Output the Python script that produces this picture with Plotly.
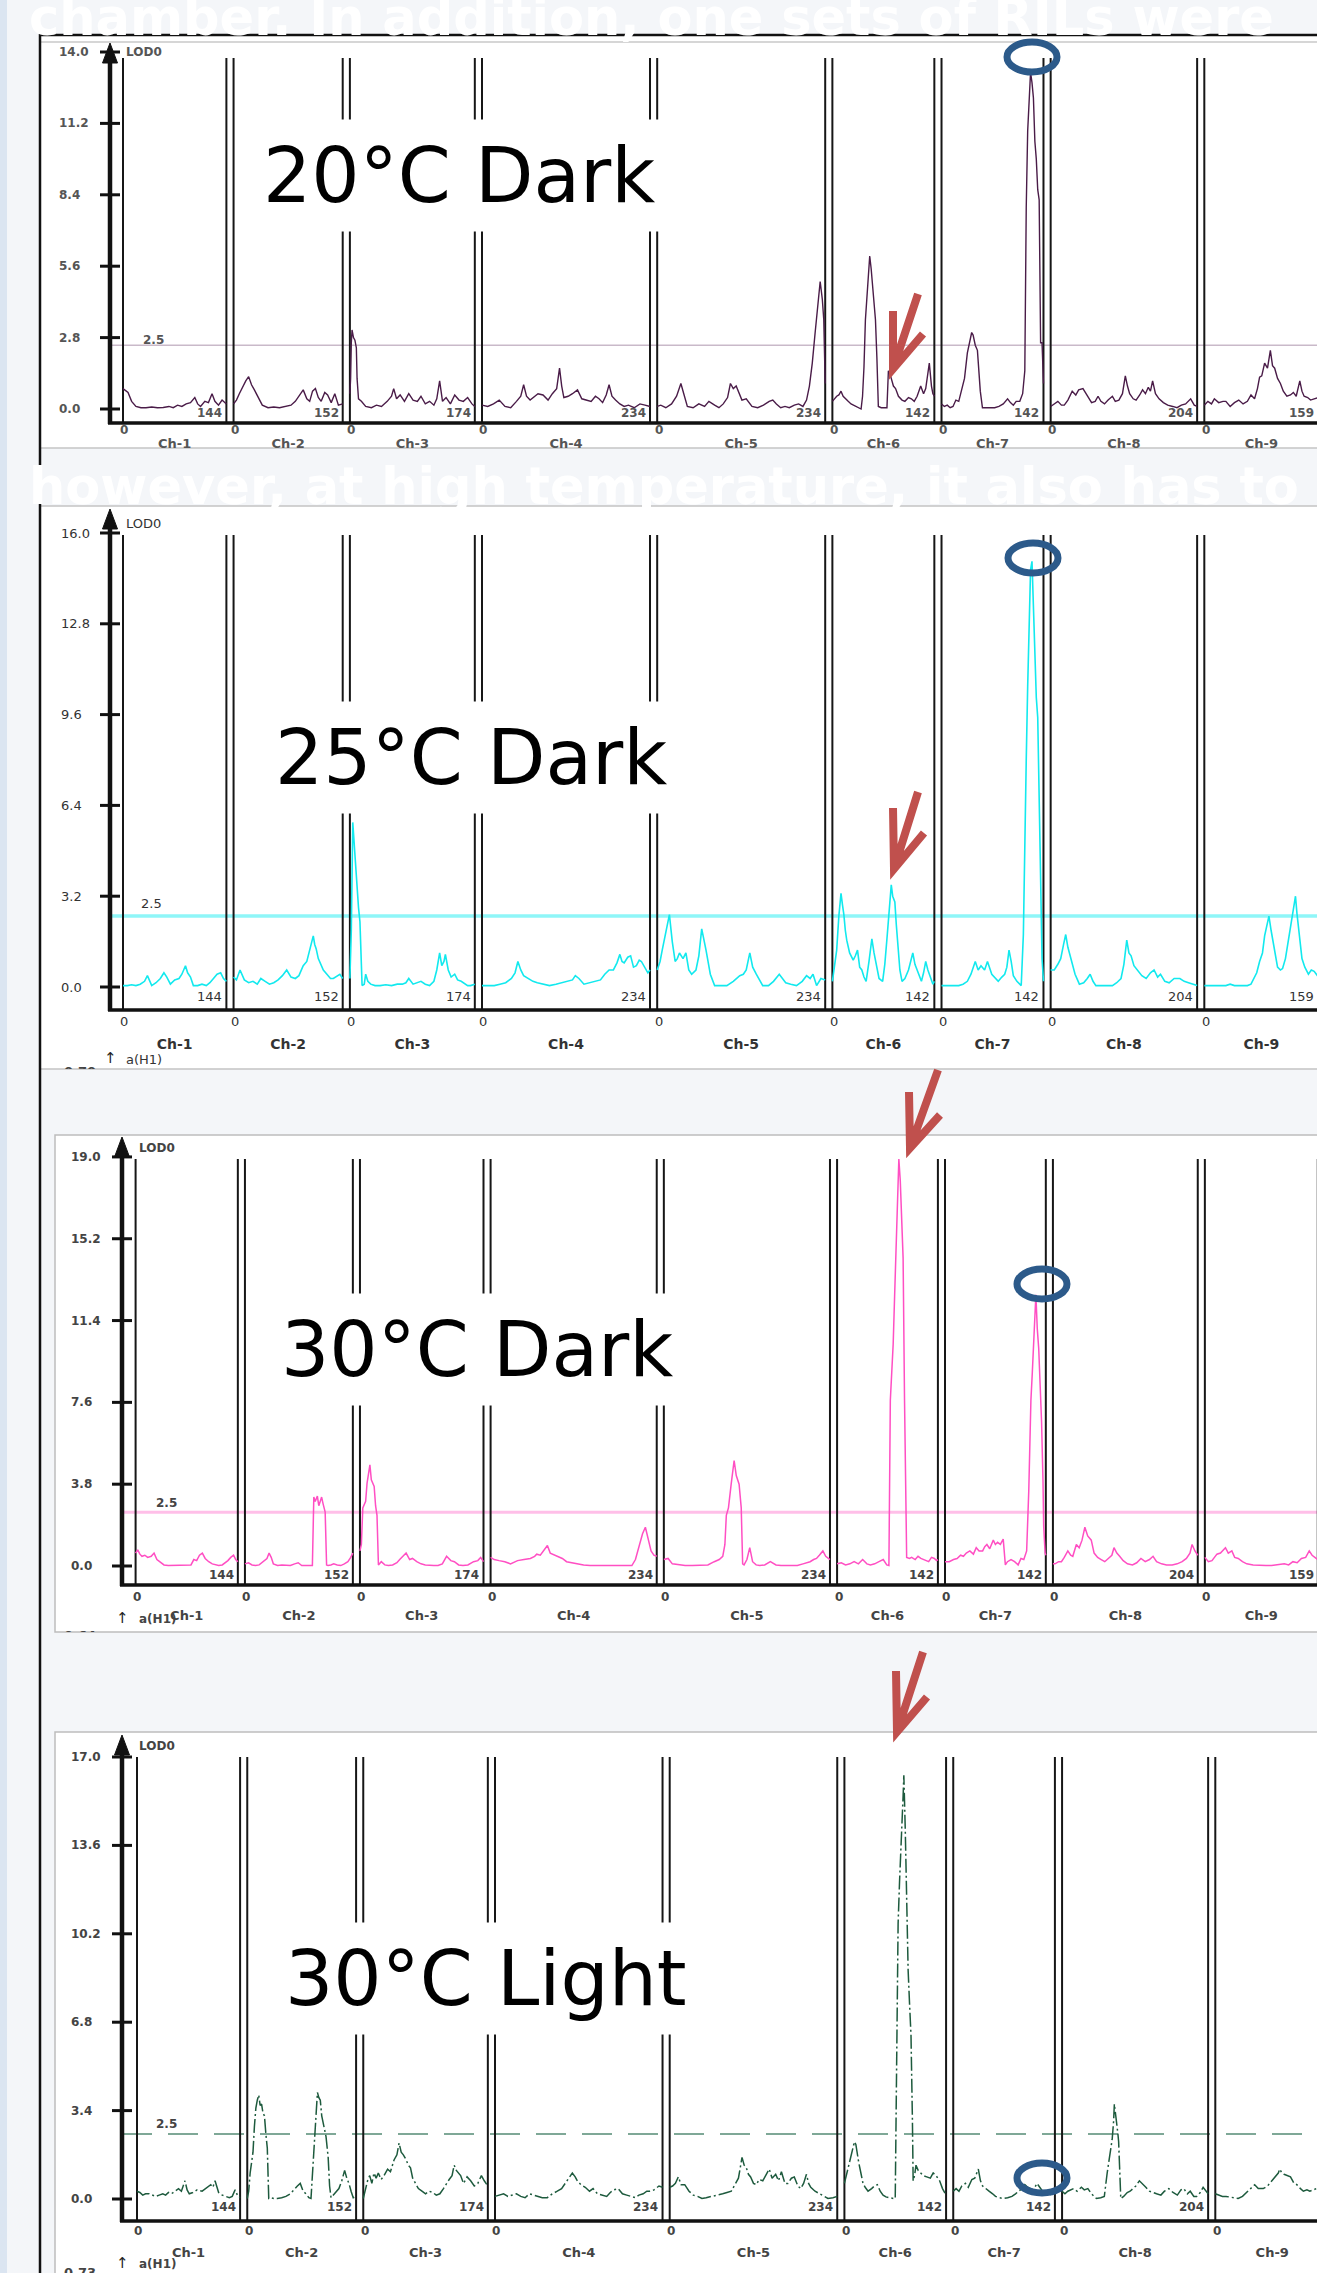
import plotly.graph_objects as go

W, H = 1317, 2273

# ---------------- data ----------------
CHROMS = ["Ch-1", "Ch-2", "Ch-3", "Ch-4", "Ch-5", "Ch-6", "Ch-7", "Ch-8", "Ch-9"]
CHROM_LEN = [144, 152, 174, 234, 234, 142, 142, 204, 159]
GAP_CM = 10
THRESHOLD = 2.5
TITLES = ["20°C Dark", "25°C Dark", "30°C Dark", "30°C Light"]
Y_TICKS = [
    [0.0, 2.8, 5.6, 8.4, 11.2, 14.0],
    [0.0, 3.2, 6.4, 9.6, 12.8, 16.0],
    [0.0, 3.8, 7.6, 11.4, 15.2, 19.0],
    [0.0, 3.4, 6.8, 10.2, 13.6, 17.0],
]
EFFECT_TOP = [None, "0.70", "0.64", "0.73"]
BG_TEXT = ["chamber. In addition, one sets of RILs were",
           "however, at high temperature, it also has to"]

# 20°C Dark : positions (cM within chromosome) and LOD
cm_20 = [
    [0,3,7,12,18,25,32,40,48,56,64,70,76,82,88,94,100,104,108,114,119,124,128,133,138,144],
    [0,4,8,13,17,21,25,29,34,40,48,56,64,72,80,86,91,97,102,106,110,114,118,122,127,131,136,141,146,152],
    [0,1,2,3,5,7,9,10,12,16,22,30,37,44,52,58,61,65,70,76,82,88,94,99,105,111,117,121,125,129,134,140,146,152,158,164,170,174],
    [0,8,16,24,32,40,48,54,58,62,67,72,78,85,92,98,104,108,111,114,120,126,133,139,145,152,158,163,168,173,177,181,186,192,198,204,212,220,227,234],
    [0,5,12,20,27,33,37,42,50,58,66,72,80,86,92,98,102,106,110,114,118,124,132,140,148,156,161,166,172,178,184,191,197,203,208,212,216,220,224,227,230,232,234],
    [0,3,6,9,12,15,18,22,26,30,34,38,40,42,44,46,48,50,52,54,56,58,60,62,64,68,72,76,78,80,82,85,88,92,97,101,106,110,114,118,123,127,130,133,135,138,140,142],
    [0,4,8,12,16,20,24,28,32,36,39,42,44,47,50,52,54,57,62,68,74,80,86,92,96,100,104,109,113,116,118,120,122,124,126,128,130,132,134,136,138,140,142],
    [0,5,10,15,19,24,30,35,39,45,51,57,62,66,70,75,80,86,90,95,100,104,107,110,115,119,124,128,132,136,139,142,146,151,157,163,170,176,182,188,195,200,204],
    [0,5,10,14,20,26,30,36,42,48,54,60,65,70,74,77,80,84,88,92,95,98,102,106,110,115,120,124,128,133,136,139,144,148,153,159],
]
lod_20 = [
    [0.8,0.75,0.65,0.3,0.1,0.05,0.05,0.08,0.05,0.06,0.1,0.05,0.15,0.1,0.2,0.25,0.45,0.2,0.1,0.3,0.25,0.6,0.3,0.15,0.35,0.2],
    [0.2,0.35,0.6,0.9,1.1,1.27,0.95,0.75,0.45,0.15,0.05,0.08,0.05,0.1,0.15,0.3,0.5,0.75,0.4,0.3,0.7,0.8,0.45,0.3,0.65,0.55,0.25,0.6,0.15,0.2],
    [0.6,1.2,2.6,3.1,2.8,2.7,2.4,1.2,0.4,0.3,0.1,0.05,0.15,0.1,0.3,0.5,0.8,0.4,0.55,0.3,0.6,0.35,0.3,0.5,0.2,0.3,0.15,0.4,1.1,0.3,0.45,0.2,0.55,0.35,0.3,0.45,0.2,0.1],
    [0.15,0.1,0.2,0.35,0.1,0.05,0.3,0.5,0.95,0.5,0.35,0.45,0.6,0.55,0.35,0.6,0.8,1.6,0.9,0.45,0.5,0.6,0.75,0.4,0.35,0.3,0.5,0.4,0.25,0.55,0.95,0.5,0.35,0.2,0.1,0.15,0.05,0.2,0.15,0.1],
    [0.1,0.15,0.05,0.2,0.5,1.0,0.6,0.1,0.05,0.2,0.1,0.3,0.15,0.05,0.2,0.45,1.0,0.8,0.9,0.6,0.35,0.4,0.1,0.05,0.15,0.3,0.35,0.2,0.05,0.1,0.05,0.15,0.2,0.1,0.35,0.9,1.8,3.0,4.2,5.0,4.3,3.5,1.0],
    [0.3,0.4,0.5,0.55,0.7,0.5,0.4,0.3,0.2,0.15,0.1,0.05,0.0,0.5,1.65,3.5,4.5,5.3,6.0,5.5,4.9,4.3,3.5,2.0,0.1,0.05,0.05,0.05,1.5,1.4,1.2,0.9,0.8,0.5,0.35,0.3,0.45,0.4,0.3,0.5,0.9,0.6,0.8,1.3,1.8,0.9,0.6,0.5],
    [0.2,0.1,0.15,0.05,0.1,0.35,0.3,0.75,1.2,2.2,2.6,3.0,2.9,2.5,2.3,1.6,0.7,0.05,0.05,0.05,0.05,0.1,0.2,0.4,0.25,0.15,0.3,0.3,0.6,1.5,7.9,10.9,12.4,13.2,12.8,12.2,10.5,9.8,8.6,8.2,2.6,2.6,1.0],
    [0.1,0.2,0.3,0.15,0.15,0.35,0.7,0.55,0.75,0.8,0.55,0.25,0.3,0.5,0.3,0.2,0.35,0.5,0.3,0.35,0.6,1.3,0.9,0.6,0.4,0.35,0.55,0.75,0.6,0.85,0.7,1.1,0.6,0.4,0.25,0.15,0.1,0.05,0.15,0.2,0.4,0.15,0.1],
    [0.15,0.3,0.2,0.4,0.25,0.3,0.3,0.1,0.25,0.35,0.2,0.3,0.55,0.4,0.8,1.25,1.3,1.8,1.6,2.3,1.7,1.6,1.2,1.0,0.7,0.5,0.55,0.65,0.5,1.1,0.7,0.5,0.45,0.35,0.4,0.45],
]

# 25°C Dark
cm_25 = [
    [0,6,12,18,24,30,34,37,40,46,52,57,61,66,72,78,82,87,90,94,98,104,110,116,121,126,131,136,140,144],
    [0,4,9,15,21,27,33,38,44,50,56,62,68,74,80,86,91,97,102,106,109,111,113,115,118,121,125,130,135,139,144,148,152],
    [0,2,4,6,9,12,14,17,20,22,25,29,35,42,50,58,66,73,78,82,88,94,99,105,111,117,121,125,128,131,133,137,141,146,150,155,160,164,168,174],
    [0,8,17,25,33,41,46,50,54,58,65,71,77,85,94,103,112,120,126,130,135,142,150,159,165,171,177,183,188,192,195,198,203,207,211,215,219,222,226,231,234],
    [0,4,7,10,13,17,21,25,28,31,36,40,44,48,54,58,62,65,68,74,80,88,97,106,115,120,124,129,133,138,147,155,162,170,179,186,194,202,208,213,217,222,228,234],
    [0,3,6,9,12,14,16,18,20,24,29,32,35,38,41,44,47,51,55,58,61,65,70,73,76,79,82,84,87,89,91,94,97,101,106,109,112,115,118,121,124,127,130,133,136,140,142],
    [0,6,12,18,24,30,36,41,44,47,51,55,60,64,70,75,79,84,88,91,94,97,100,105,111,114,116,118,120,122,124,126,128,130,132,134,136,138,140,142],
    [0,5,10,14,18,21,24,28,34,40,46,51,55,59,63,70,78,86,92,98,102,106,109,112,116,121,127,133,139,144,149,153,159,165,172,180,186,192,198,204],
    [0,6,12,18,25,30,36,42,48,54,60,65,69,73,77,81,84,87,90,93,96,99,102,106,109,113,118,122,125,127,129,132,136,140,145,149,153,159],
]
lod_25 = [
    [0.05,0.05,0.08,0.05,0.1,0.2,0.4,0.25,0.05,0.15,0.3,0.5,0.35,0.1,0.25,0.3,0.45,0.75,0.5,0.35,0.05,0.05,0.1,0.05,0.15,0.3,0.45,0.5,0.3,0.2],
    [0.35,0.25,0.6,0.25,0.15,0.2,0.1,0.3,0.2,0.1,0.15,0.25,0.4,0.6,0.35,0.3,0.4,0.75,0.9,1.3,1.6,1.8,1.5,1.35,1.0,0.8,0.6,0.45,0.3,0.3,0.4,0.45,0.3],
    [0.3,2.0,5.8,5.0,3.8,2.8,2.3,0.05,0.1,0.45,0.2,0.1,0.05,0.05,0.08,0.05,0.1,0.1,0.15,0.3,0.1,0.15,0.2,0.1,0.05,0.2,0.6,1.2,0.75,0.9,1.15,0.6,0.35,0.45,0.25,0.2,0.1,0.05,0.05,0.1],
    [0.05,0.05,0.05,0.1,0.15,0.3,0.5,0.9,0.6,0.4,0.3,0.2,0.15,0.1,0.05,0.1,0.15,0.2,0.25,0.4,0.3,0.1,0.15,0.2,0.25,0.45,0.6,0.6,0.85,1.15,0.9,0.85,1.05,1.1,0.7,0.75,0.95,0.9,0.7,0.5,0.6],
    [0.6,0.9,1.3,1.7,2.1,2.55,1.6,0.9,1.0,1.2,1.0,1.2,0.6,0.45,0.6,1.1,2.05,1.6,1.3,0.45,0.05,0.05,0.05,0.2,0.4,0.45,0.6,1.2,0.7,0.45,0.05,0.05,0.2,0.45,0.15,0.1,0.05,0.2,0.4,0.3,0.45,0.05,0.3,0.25],
    [0.2,0.7,1.3,2.5,3.3,2.9,2.55,2.0,1.65,1.2,0.95,1.1,1.3,0.7,0.6,0.35,0.2,0.9,1.7,1.2,0.75,0.3,0.2,0.8,1.7,2.6,3.6,3.2,3.0,2.2,1.55,0.6,0.2,0.3,0.6,0.9,1.2,0.8,0.6,0.35,0.2,0.5,0.9,0.6,0.4,0.1,0.2],
    [0.05,0.05,0.05,0.05,0.05,0.1,0.2,0.45,0.7,0.9,0.6,0.75,0.6,0.9,0.45,0.3,0.2,0.35,0.45,0.7,1.3,0.9,0.4,0.2,0.05,1.85,6.0,8.0,10.6,12.5,14.7,15.0,13.5,11.3,10.2,9.5,6.5,3.9,1.0,0.2],
    [0.6,0.6,0.8,1.0,1.5,1.85,1.4,1.0,0.45,0.1,0.15,0.3,0.45,0.2,0.05,0.05,0.05,0.05,0.15,0.3,0.8,1.65,1.2,1.1,0.75,0.6,0.4,0.3,0.5,0.6,0.35,0.45,0.2,0.15,0.3,0.3,0.2,0.15,0.1,0.05],
    [0.05,0.05,0.05,0.05,0.05,0.05,0.1,0.05,0.05,0.05,0.05,0.1,0.3,0.5,0.9,1.2,1.8,2.2,2.5,2.0,1.6,1.2,0.7,0.6,0.65,1.0,1.85,2.5,2.9,3.2,2.6,2.0,1.0,0.7,0.45,0.6,0.55,0.35],
]

# 30°C Dark
cm_30d = [
    [0,3,6,9,13,17,22,26,30,34,40,46,52,60,70,78,82,86,90,94,98,103,108,112,117,122,126,130,134,138,141,144],
    [0,5,10,15,20,26,31,34,37,40,46,52,58,64,70,75,80,85,90,95,97,99,102,104,106,108,110,113,115,117,121,125,130,135,140,145,149,152],
    [0,2,4,6,8,10,12,14,16,18,20,22,24,26,30,35,40,46,52,56,61,65,70,74,80,86,92,98,104,110,116,122,128,133,139,145,152,160,166,170,174],
    [0,5,12,20,28,38,47,56,62,65,70,74,77,80,84,88,95,101,107,114,122,131,140,150,163,172,181,190,199,204,207,211,214,218,222,226,230,234],
    [0,6,12,20,30,40,53,62,71,78,83,86,88,91,95,99,102,106,109,111,113,117,121,125,130,135,142,150,158,165,175,188,196,206,211,215,219,224,228,234],
    [0,6,12,18,24,30,36,42,47,53,59,65,70,73,75,77,79,81,83,85,87,89,91,93,95,97,98,102,105,110,114,118,122,126,129,133,137,140,142],
    [0,6,12,17,22,26,30,35,40,44,48,53,56,59,63,68,71,74,78,82,85,88,93,98,103,107,111,115,118,121,123,125,127,128,130,132,134,136,138,139,141,142],
    [0,3,8,12,16,21,25,28,33,37,41,45,49,54,58,63,68,73,78,83,86,90,94,99,105,112,118,124,130,136,141,146,153,160,168,175,182,188,193,196,200,204],
    [0,5,10,17,22,26,29,33,38,42,47,53,59,68,77,86,94,103,112,118,124,130,136,142,147,151,156,159],
]
lod_30d = [
    [0.6,0.75,0.55,0.45,0.5,0.4,0.45,0.6,0.3,0.2,0.05,0.02,0.02,0.02,0.02,0.05,0.3,0.25,0.5,0.6,0.35,0.2,0.1,0.05,0.02,0.05,0.15,0.25,0.4,0.5,0.3,0.2],
    [0.1,0.15,0.05,0.02,0.05,0.2,0.35,0.6,0.4,0.1,0.02,0.05,0.02,0.02,0.1,0.15,0.02,0.02,0.02,0.02,3.2,3.0,3.25,2.8,3.0,3.2,2.9,2.5,0.05,0.02,0.05,0.1,0.05,0.02,0.1,0.2,0.4,0.6],
    [0.7,1.0,2.7,2.9,3.0,3.85,4.3,4.7,4.0,3.8,3.7,2.8,2.35,0.05,0.2,0.05,0.02,0.05,0.15,0.3,0.45,0.6,0.3,0.35,0.2,0.1,0.05,0.02,0.02,0.02,0.1,0.45,0.25,0.2,0.05,0.02,0.05,0.2,0.25,0.4,0.2],
    [0.4,0.3,0.25,0.2,0.1,0.25,0.3,0.35,0.45,0.55,0.5,0.7,0.8,0.95,0.6,0.55,0.45,0.35,0.2,0.15,0.1,0.05,0.02,0.02,0.02,0.02,0.05,0.02,0.02,0.3,0.7,1.2,1.5,1.8,1.3,0.7,0.5,0.45],
    [0.3,0.35,0.1,0.05,0.02,0.02,0.02,0.05,0.2,0.3,0.45,1.0,2.35,2.7,3.85,4.9,4.2,3.8,2.7,0.1,0.05,0.3,0.85,0.2,0.05,0.02,0.05,0.2,0.05,0.02,0.02,0.02,0.1,0.2,0.3,0.35,0.5,0.7,0.45,0.3],
    [0.1,0.15,0.05,0.1,0.2,0.1,0.3,0.1,0.05,0.1,0.2,0.3,0.05,0.02,7.7,9.0,10.3,12.5,14.6,17.5,18.9,17.9,15.8,14.3,7.7,3.0,0.4,0.35,0.4,0.3,0.45,0.35,0.3,0.25,0.2,0.4,0.35,0.25,0.3],
    [0.2,0.2,0.3,0.35,0.5,0.45,0.6,0.7,0.55,0.85,0.7,0.7,0.9,1.0,0.8,1.2,1.0,1.1,1.0,1.25,0.05,0.2,0.3,0.2,0.05,0.35,0.3,0.7,3.5,7.7,9.0,10.3,11.8,12.6,11.0,10.1,8.4,6.7,4.0,1.85,0.6,0.5],
    [0.1,0.1,0.2,0.2,0.4,0.7,0.5,0.45,1.0,0.85,1.2,1.8,1.4,1.2,0.6,0.4,0.3,0.2,0.35,0.5,0.85,0.6,0.45,0.25,0.1,0.05,0.15,0.35,0.2,0.3,0.45,0.2,0.1,0.05,0.05,0.1,0.2,0.35,0.6,1.0,0.7,0.5],
    [0.4,0.2,0.25,0.55,0.6,0.75,0.85,0.6,0.7,0.4,0.35,0.2,0.1,0.05,0.02,0.02,0.02,0.05,0.1,0.05,0.2,0.15,0.35,0.4,0.7,0.5,0.35,0.3],
]

# 30°C Light
cm_30l = [
    [0,4,8,12,17,22,26,31,36,40,44,48,53,58,62,67,70,73,78,84,91,96,100,103,106,109,114,119,124,129,133,137,141,144],
    [0,2,4,6,8,10,12,14,16,18,20,22,24,26,28,30,33,37,42,48,54,60,66,70,74,78,82,86,89,91,93,96,98,100,102,104,106,108,110,113,115,117,120,124,128,132,136,139,142,145,148,152],
    [0,3,6,9,12,15,18,21,25,29,34,38,43,47,50,53,56,60,63,66,69,73,77,82,87,92,97,102,107,112,116,120,124,127,130,133,136,140,145,150,155,160,165,169,174],
    [0,6,12,18,24,30,36,42,48,54,60,66,73,80,87,93,98,103,108,112,115,120,126,132,137,143,150,156,161,166,172,178,184,190,196,201,207,212,216,222,229,234],
    [0,4,8,12,16,21,27,33,39,45,51,56,62,68,74,80,86,92,96,101,104,107,110,113,117,121,125,130,134,139,143,148,152,156,161,165,170,174,179,183,187,191,194,197,203,209,215,221,228,234],
    [0,3,6,8,11,14,16,18,20,23,26,29,33,38,42,46,50,54,58,62,66,69,71,72,74,75,77,79,80,82,83,85,87,89,91,93,95,96,98,100,103,106,110,115,120,124,128,133,137,142],
    [0,4,8,12,17,21,26,30,35,38,41,45,50,55,59,64,70,76,82,87,91,96,100,104,108,112,117,121,126,130,135,139,142],
    [0,4,8,12,16,21,27,31,36,41,48,54,59,63,66,68,70,72,73,75,76,78,79,82,86,91,95,99,103,108,112,117,122,126,132,138,143,149,155,161,166,170,175,179,184,188,193,197,201,204],
    [0,5,10,15,20,26,32,38,44,50,55,60,67,73,79,84,88,90,93,96,100,105,110,114,119,123,128,132,137,141,146,152,159],
]
lod_30l = [
    [0.3,0.25,0.15,0.2,0.2,0.15,0.1,0.15,0.2,0.15,0.25,0.2,0.3,0.4,0.3,0.7,0.35,0.2,0.25,0.35,0.3,0.4,0.5,0.55,0.45,0.7,0.25,0.15,0.1,0.05,0.1,0.35,0.1,0.05],
    [0.02,0.3,1.0,1.5,1.8,2.8,3.5,3.8,4.0,3.6,3.65,3.3,3.2,2.5,1.95,0.02,0.05,0.02,0.02,0.05,0.1,0.2,0.4,0.5,0.6,0.3,0.2,0.05,0.02,1.0,2.1,3.5,4.1,3.9,3.8,3.2,2.9,2.6,2.4,1.6,0.5,0.05,0.15,0.25,0.4,0.7,1.1,0.8,0.6,0.3,0.05,0.1],
    [0.02,0.4,0.7,0.9,0.6,1.0,0.8,1.0,0.75,0.9,1.15,1.05,1.5,1.7,2.15,1.8,1.7,1.5,1.3,1.2,0.8,0.6,0.4,0.3,0.2,0.3,0.25,0.15,0.2,0.4,0.6,0.75,0.9,1.3,1.1,1.0,0.9,0.6,0.85,0.7,0.5,0.6,0.9,0.7,0.5],
    [0.1,0.15,0.2,0.1,0.15,0.2,0.1,0.05,0.2,0.15,0.1,0.05,0.05,0.2,0.3,0.4,0.6,0.8,1.0,0.85,0.7,0.55,0.45,0.3,0.4,0.2,0.15,0.1,0.25,0.35,0.4,0.2,0.15,0.1,0.05,0.15,0.2,0.3,0.3,0.35,0.5,0.45],
    [0.45,0.5,0.6,0.85,0.55,0.55,0.3,0.15,0.1,0.02,0.05,0.08,0.1,0.15,0.2,0.25,0.3,0.6,0.8,1.6,1.3,1.2,0.95,0.85,0.6,0.55,0.75,0.7,0.9,1.15,0.8,0.95,0.7,1.05,0.6,0.6,0.8,0.85,0.5,0.4,0.6,0.95,0.6,0.45,0.3,0.2,0.1,0.02,0.05,0.1],
    [0.6,0.95,1.3,1.6,1.9,2.2,2.1,1.7,1.4,1.0,0.6,0.45,0.3,0.4,0.5,0.55,0.3,0.15,0.08,0.05,0.02,0.02,0.02,2.55,6.0,10.6,12.2,13.2,14.2,15.5,16.3,14.2,11.4,8.8,7.5,6.3,3.0,0.7,0.9,1.3,1.1,1.0,0.9,0.85,0.8,1.0,0.9,0.7,0.4,0.15],
    [0.3,0.4,0.3,0.5,0.6,0.45,0.75,0.8,1.15,0.7,0.5,0.4,0.3,0.2,0.1,0.05,0.02,0.05,0.1,0.2,0.3,0.4,0.55,0.45,0.4,0.35,0.6,0.45,0.25,0.2,0.15,0.3,0.4],
    [0.3,0.2,0.3,0.35,0.4,0.3,0.45,0.35,0.4,0.2,0.02,0.05,0.1,1.0,1.6,2.0,2.3,3.0,3.65,3.2,2.85,2.5,2.2,0.02,0.1,0.25,0.3,0.4,0.5,0.7,0.6,0.45,0.3,0.25,0.2,0.15,0.3,0.4,0.25,0.15,0.35,0.4,0.2,0.3,0.1,0.1,0.25,0.45,0.3,0.2],
    [0.2,0.15,0.1,0.1,0.08,0.05,0.02,0.1,0.25,0.4,0.55,0.4,0.4,0.5,0.7,0.9,1.0,1.15,1.0,0.95,0.9,0.85,0.6,0.55,0.4,0.3,0.35,0.3,0.35,0.4,0.3,0.25,0.2],
]

CM = [cm_20, cm_25, cm_30d, cm_30l]
LOD = [lod_20, lod_25, lod_30d, lod_30l]

# ---------------- layout constants (pixels) ----------------
PANELS = [
    dict(xa=123, xs=0.718, y0=409, yk=25.5, top=36, bot=448, axx=110, axy=423, tip=43, septop=58,
         tickx=57, thrx=141, thry=340, lodx=124, lody=52, zeroy=430, leny=413, chy=445, ahy=None, cuty=None,
         title=(263, 175), lcolor="#4a1c48", lwidth=1.4, ldash="solid",
         tcolor="#c9b9c9", twidth=1.5, tdash="solid", fsize=12, fbold=True, fcolor="#555555"),
    dict(xa=123, xs=0.718, y0=987, yk=28.375, top=506, bot=1069, axx=110, axy=1010, tip=509, septop=535,
         tickx=59, thrx=139, thry=903, lodx=124, lody=523, zeroy=1021, leny=996, chy=1045, ahy=1059, cuty=1073,
         title=(275, 757), lcolor="#12e9ee", lwidth=1.6, ldash="solid",
         tcolor="#8ff6f8", twidth=3.5, tdash="solid", fsize=13, fbold=False, fcolor="#333333"),
    dict(xa=135.6, xs=0.710, y0=1566, yk=21.53, top=1135, bot=1632, axx=122, axy=1585, tip=1137, septop=1159,
         tickx=69, thrx=154, thry=1503, lodx=137, lody=1148, zeroy=1597, leny=1575, chy=1617, ahy=1619, cuty=1637,
         title=(281, 1349), lcolor="#ff4fc3", lwidth=1.5, ldash="solid",
         tcolor="#ffbfe8", twidth=3.0, tdash="solid", fsize=12, fbold=True, fcolor="#444444"),
    dict(xa=137, xs=0.716, y0=2199, yk=26.0, top=1732, bot=2273, axx=122, axy=2221, tip=1735, septop=1757,
         tickx=69, thrx=154, thry=2124, lodx=137, lody=1746, zeroy=2231, leny=2207, chy=2254, ahy=2264, cuty=2274,
         title=(285, 1978), lcolor="#1d5a3d", lwidth=1.5, ldash="14px,3px,2px,3px",
         tcolor="#7fa897", twidth=2.0, tdash="30px,16px", fsize=12, fbold=True, fcolor="#444444"),
]

RED_ARROWS = [  # tail, tip, left arm end, right arm end
    ((918, 294), (893, 369), (893, 311), (923, 334)),
    ((918, 792), (894, 869), (893, 808), (924, 833)),
    ((938, 1070), (910, 1148), (909, 1092), (940, 1115)),
    ((923, 1652), (897, 1732), (896, 1671), (927, 1697)),
]
BLUE_RINGS = [(1032, 57), (1033, 558), (1042, 1284), (1042, 2178)]


def X(px):
    return px / W


def Y(py):
    return 1 - py / H


offsets = []
acc = 0
for L in CHROM_LEN:
    offsets.append(acc)
    acc += L + GAP_CM

fig = go.Figure()
shapes = []
annotations = []

# ---- page background pieces ----
shapes.append(dict(type="rect", xref="paper", yref="paper", x0=0, x1=X(7), y0=0, y1=1,
                   fillcolor="#dbe5f1", line=dict(width=0), layer="below"))
# panel 1
shapes.append(dict(type="rect", xref="paper", yref="paper", x0=X(40), x1=1, y0=Y(448), y1=Y(36),
                   fillcolor="white", line=dict(width=0), layer="below"))
shapes.append(dict(type="line", xref="paper", yref="paper", x0=X(40), x1=1, y0=Y(42), y1=Y(42),
                   line=dict(color="#c8c8c8", width=1.5), layer="below"))
shapes.append(dict(type="line", xref="paper", yref="paper", x0=X(40), x1=1, y0=Y(448), y1=Y(448),
                   line=dict(color="#c4c4c4", width=1.5), layer="below"))
# panel 2
shapes.append(dict(type="rect", xref="paper", yref="paper", x0=X(40), x1=1.01, y0=Y(1069), y1=Y(506),
                   fillcolor="white", line=dict(color="#c4c4c4", width=1.5), layer="below"))
# panel 3, 4
shapes.append(dict(type="rect", xref="paper", yref="paper", x0=X(55), x1=1.01, y0=Y(1632), y1=Y(1135),
                   fillcolor="white", line=dict(color="#bdbdbd", width=1.5), layer="below"))
shapes.append(dict(type="rect", xref="paper", yref="paper", x0=X(55), x1=1.01, y0=Y(2290), y1=Y(1732),
                   fillcolor="white", line=dict(color="#bdbdbd", width=1.5), layer="below"))
# black frame
shapes.append(dict(type="line", xref="paper", yref="paper", x0=X(40), x1=X(40), y0=0, y1=Y(34),
                   line=dict(color="#111111", width=2.5), layer="below"))
shapes.append(dict(type="line", xref="paper", yref="paper", x0=X(39), x1=1, y0=Y(35), y1=Y(35),
                   line=dict(color="#111111", width=2.5), layer="below"))

# faint background slide text
annotations.append(dict(text=BG_TEXT[0], xref="paper", yref="paper", x=X(27), y=Y(17),
                        xanchor="left", yanchor="middle", showarrow=False,
                        font=dict(family="DejaVu Sans", size=51, color="white", weight="bold")))
annotations.append(dict(text=BG_TEXT[1], xref="paper", yref="paper", x=X(27), y=Y(487),
                        xanchor="left", yanchor="middle", showarrow=False,
                        font=dict(family="DejaVu Sans", size=51, color="white", weight="bold")))

for k, p in enumerate(PANELS):
    sfx = "" if k == 0 else str(k + 1)
    xr, yr = "x" + sfx, "y" + sfx

    def dx(px, p=p):
        return (px - p["xa"]) / p["xs"]

    def dy(py, p=p):
        return (p["y0"] - py) / p["yk"]

    fig.update_layout(**{
        "xaxis" + sfx: dict(domain=[0, 1], range=[dx(0), dx(W)], visible=False, fixedrange=True, anchor=yr),
        "yaxis" + sfx: dict(domain=[Y(p["bot"]), Y(p["top"])], range=[dy(p["bot"]), dy(p["top"])],
                            visible=False, fixedrange=True, anchor=xr),
    })

    # LOD curve
    xs, ys = [], []
    for i in range(len(CHROM_LEN)):
        for c, v in zip(CM[k][i], LOD[k][i]):
            xs.append(offsets[i] + c)
            ys.append(v)
        xs.append(None)
        ys.append(None)
    fig.add_trace(go.Scatter(x=xs, y=ys, mode="lines", xaxis=xr, yaxis=yr, hoverinfo="skip",
                             showlegend=False,
                             line=dict(color=p["lcolor"], width=p["lwidth"], dash=p["ldash"])))

    # threshold line
    shapes.append(dict(type="line", xref=xr, yref=yr, x0=dx(p["axx"]), x1=dx(W + 5),
                       y0=THRESHOLD, y1=THRESHOLD, layer="below",
                       line=dict(color=p["tcolor"], width=p["twidth"], dash=p["tdash"])))
    # chromosome separators
    for i, L in enumerate(CHROM_LEN):
        for xv in (offsets[i], offsets[i] + L):
            shapes.append(dict(type="line", xref=xr, yref=yr, x0=xv, x1=xv,
                               y0=dy(p["axy"]), y1=dy(p["septop"]), layer="below",
                               line=dict(color="#161616", width=2)))
    # axes
    shapes.append(dict(type="line", xref=xr, yref=yr, x0=dx(p["axx"] - 2), x1=dx(W + 5),
                       y0=dy(p["axy"]), y1=dy(p["axy"]), layer="below",
                       line=dict(color="#111111", width=3.5)))
    shapes.append(dict(type="line", xref=xr, yref=yr, x0=dx(p["axx"]), x1=dx(p["axx"]),
                       y0=dy(p["axy"] + 1), y1=dy(p["tip"] + 14), layer="below",
                       line=dict(color="#111111", width=4.5)))
    ax_, tp = p["axx"], p["tip"]
    shapes.append(dict(type="path", xref="paper", yref="paper",
                       path=f"M{X(ax_)},{Y(tp)} L{X(ax_ - 7.5)},{Y(tp + 20)} L{X(ax_ + 7.5)},{Y(tp + 20)} Z",
                       fillcolor="#111111", line=dict(color="#111111", width=1), layer="above"))
    for t in Y_TICKS[k]:
        shapes.append(dict(type="line", xref=xr, yref=yr, x0=dx(ax_ - 10), x1=dx(ax_ + 10),
                           y0=t, y1=t, layer="below", line=dict(color="#111111", width=3)))

    font = dict(family="DejaVu Sans", size=p["fsize"], color=p["fcolor"],
                weight="bold" if p["fbold"] else "normal")

    for t in Y_TICKS[k]:
        annotations.append(dict(text=f"{t:.1f}", xref=xr, yref=yr, x=dx(p["tickx"]), y=t,
                                xanchor="left", yanchor="middle", showarrow=False, font=font))
    annotations.append(dict(text=f"{THRESHOLD}", xref=xr, yref=yr, x=dx(p["thrx"]), y=dy(p["thry"]),
                            xanchor="left", yanchor="middle", showarrow=False, font=font))
    annotations.append(dict(text="LOD0", xref=xr, yref=yr, x=dx(p["lodx"]), y=dy(p["lody"]),
                            xanchor="left", yanchor="middle", showarrow=False, font=font))
    for i, L in enumerate(CHROM_LEN):
        annotations.append(dict(text="0", xref=xr, yref=yr, x=offsets[i] + 2, y=dy(p["zeroy"]),
                                xanchor="center", yanchor="middle", showarrow=False, font=font))
        annotations.append(dict(text=str(L), xref=xr, yref=yr, x=offsets[i] + L - 3, y=dy(p["leny"]),
                                xanchor="right", yanchor="middle", showarrow=False, font=font))
    if p["ahy"] is not None:
        annotations.append(dict(text="a(H1)", xref=xr, yref=yr, x=dx(p["lodx"]), y=dy(p["ahy"]),
                                xanchor="left", yanchor="middle", showarrow=False, font=font))
        annotations.append(dict(text="↑", xref=xr, yref=yr, x=dx(ax_), y=dy(p["ahy"] - 1),
                                xanchor="center", yanchor="middle", showarrow=False,
                                font=dict(family="DejaVu Sans", size=15, color="#222222")))
    # chromosome names (clipped by the panel's lower edge like in the picture)
    fig.add_trace(go.Scatter(x=[offsets[i] + L / 2 for i, L in enumerate(CHROM_LEN)],
                             y=[dy(p["chy"])] * len(CHROMS), text=CHROMS, mode="text",
                             textfont=dict(family="DejaVu Sans", size=p["fsize"] + 1, color=p["fcolor"],
                                           weight="bold"),
                             xaxis=xr, yaxis=yr, hoverinfo="skip", showlegend=False, cliponaxis=True))
    if EFFECT_TOP[k]:
        fig.add_trace(go.Scatter(x=[dx(80)], y=[dy(p["cuty"])], text=[EFFECT_TOP[k]], mode="text",
                                 textfont=dict(family="DejaVu Sans", size=13, color="#444444", weight="bold"),
                                 xaxis=xr, yaxis=yr, hoverinfo="skip", showlegend=False, cliponaxis=True))

    # big panel label with white box
    tx, ty = p["title"]
    annotations.append(dict(text=TITLES[k], xref="paper", yref="paper", x=X(tx - 12), y=Y(ty),
                            xanchor="left", yanchor="middle", showarrow=False, bgcolor="white",
                            borderpad=11, font=dict(family="DejaVu Sans", size=76, color="black")))

    # red hand-drawn arrow
    tail, tipp, la, ra = RED_ARROWS[k]
    path = (f"M{X(tail[0])},{Y(tail[1])} L{X(tipp[0])},{Y(tipp[1])} "
            f"M{X(la[0])},{Y(la[1])} L{X(tipp[0])},{Y(tipp[1])} L{X(ra[0])},{Y(ra[1])}")
    shapes.append(dict(type="path", xref="paper", yref="paper", path=path, layer="above",
                       line=dict(color="#c0504d", width=8)))
    # blue ring
    cx, cy = BLUE_RINGS[k]
    shapes.append(dict(type="circle", xref="paper", yref="paper", x0=X(cx - 25), x1=X(cx + 25),
                       y0=Y(cy + 15), y1=Y(cy - 15), layer="above",
                       line=dict(color="#2c5a8a", width=7)))

fig.update_layout(width=W, height=H, margin=dict(l=0, r=0, t=0, b=0),
                  paper_bgcolor="#f4f6f9", plot_bgcolor="rgba(0,0,0,0)",
                  showlegend=False, shapes=shapes, annotations=annotations)

fig.write_html("out.html", config={"displayModeBar": False})
